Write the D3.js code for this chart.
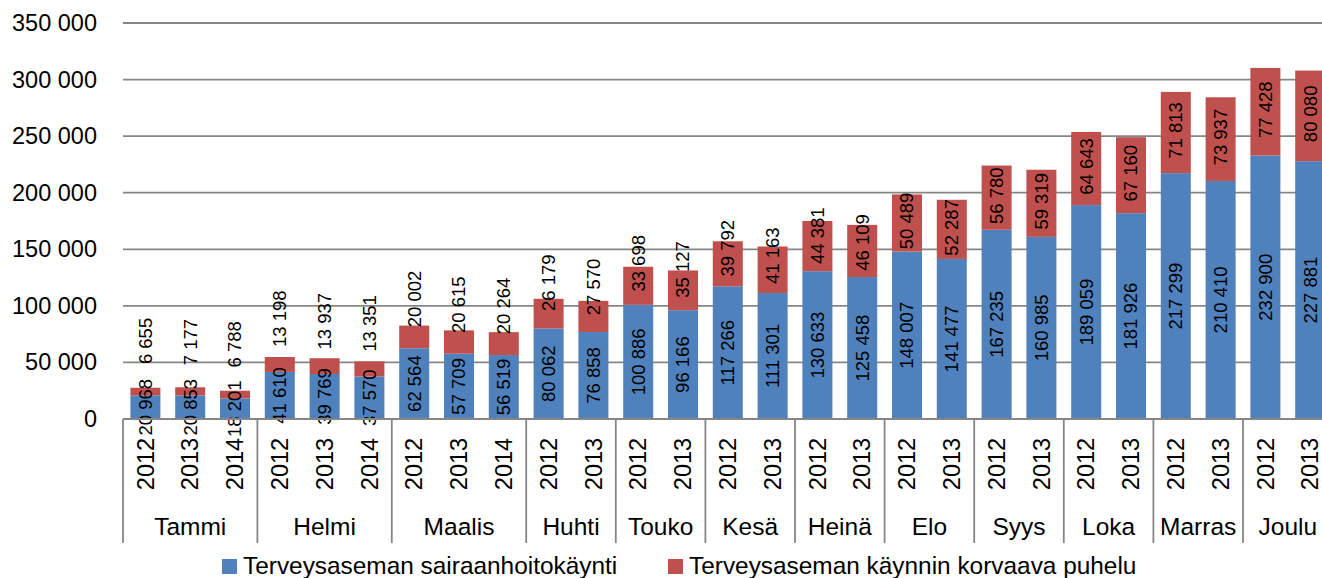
<!DOCTYPE html>
<html>
<head>
<meta charset="utf-8">
<script src="https://cdn.jsdelivr.net/npm/d3@7"></script>
<style>
  body { margin: 0; background: #fff; }
  text { font-family: "Liberation Sans", Arial, sans-serif; fill: #000; }
</style>
</head>
<body>
<svg id="svgContenedor" width="1322" height="578"></svg>
<script>
// kuukaudet ja vuodet (ryhmät)
var months = ["Tammi", "Helmi", "Maalis", "Huhti", "Touko", "Kesä", "Heinä", "Elo", "Syys", "Loka", "Marras", "Joulu"];
var monthYears = [
    ["2012", "2013", "2014"], ["2012", "2013", "2014"], ["2012", "2013", "2014"],
    ["2012", "2013"], ["2012", "2013"], ["2012", "2013"], ["2012", "2013"],
    ["2012", "2013"], ["2012", "2013"], ["2012", "2013"], ["2012", "2013"], ["2012", "2013"]
];
// Terveysaseman sairaanhoitokäynti
var kaynnit = [
    [20968, 20853, 18201], [41610, 39769, 37570], [62564, 57709, 56519],
    [80062, 76858], [100886, 96166], [117266, 111301], [130633, 125458],
    [148007, 141477], [167235, 160985], [189059, 181926], [217299, 210410], [232900, 227881]
];
// Terveysaseman käynnin korvaava puhelu
var puhelut = [
    [6655, 7177, 6788], [13198, 13937, 13351], [20002, 20615, 20264],
    [26179, 27570], [33698, 35127], [39792, 41163], [44381, 46109],
    [50489, 52287], [56780, 59319], [64643, 67160], [71813, 73937], [77428, 80080]
];
var seriesNames = ["Terveysaseman sairaanhoitokäynti", "Terveysaseman käynnin korvaava puhelu"];
var yTicks = [0, 50000, 100000, 150000, 200000, 250000, 300000, 350000];

var colors = ["#4f81bd", "#c0504d"];
var fmt = d3.formatLocale({ decimal: ",", thousands: "\u00a0", grouping: [3], currency: ["", "€"] }).format(",d");

// rivit
var rows = [];
months.forEach(function (m, i) {
    monthYears[i].forEach(function (yr, j) {
        rows.push({ key: m + "-" + yr, month: m, year: yr, a: kaynnit[i][j], b: puhelut[i][j] });
    });
});

var svg = d3.select("#svgContenedor");
var plotLeft = 123, plotBottom = 419, plotTop = 23;
var step = 44.8;

var x = d3.scaleBand()
    .domain(rows.map(function (d) { return d.key; }))
    .range([plotLeft, plotLeft + rows.length * step])
    .paddingInner(0.33)
    .paddingOuter(0.165);
var y = d3.scaleLinear().domain([0, 350000]).range([plotBottom, plotTop]);

// ruudukko
svg.append("g").selectAll("line")
    .data(yTicks)
    .enter().append("line")
    .attr("x1", plotLeft).attr("x2", 1322)
    .attr("y1", function (d) { return y(d); })
    .attr("y2", function (d) { return y(d); })
    .attr("stroke", "#868686")
    .attr("stroke-width", 1.8);

// y-akseli
var yAxis = svg.append("g")
    .attr("transform", "translate(" + plotLeft + ",0)")
    .call(d3.axisLeft(y).tickValues(yTicks).tickSize(0).tickPadding(26).tickFormat(fmt));
yAxis.select(".domain").remove();
yAxis.selectAll("text")
    .style("font-family", "'Liberation Sans', Arial, sans-serif")
    .style("font-size", "23.5px")
    .attr("fill", "#000");

// pylväät
var bars = svg.append("g");
rows.forEach(function (d) {
    bars.append("rect")
        .attr("x", x(d.key)).attr("width", x.bandwidth())
        .attr("y", y(d.a)).attr("height", y(0) - y(d.a))
        .attr("fill", colors[0]);
    bars.append("rect")
        .attr("x", x(d.key)).attr("width", x.bandwidth())
        .attr("y", y(d.a + d.b)).attr("height", y(d.a) - y(d.a + d.b))
        .attr("fill", colors[1]);
});

// arvot
var labels = svg.append("g");
rows.forEach(function (d) {
    var cx = x(d.key) + x.bandwidth() / 2;
    var cyA = (y(0) + y(d.a)) / 2;
    labels.append("text")
        .attr("transform", "translate(" + cx + "," + cyA + ") rotate(-90)")
        .attr("text-anchor", "middle")
        .attr("dy", "0.35em")
        .style("font-size", "18.5px")
        .text(fmt(d.a));
    var segH = y(d.a) - y(d.a + d.b);
    var t = labels.append("text")
        .attr("text-anchor", "middle")
        .attr("dy", "0.35em")
        .style("font-size", "18.5px")
        .text(fmt(d.b));
    // ei mahdu -> siirretään ylös
    var len = t.node().getComputedTextLength();
    var shift = len > segH ? (len - segH) + 4 + Math.max(0, 14 - segH) * 1.2 : 2;
    var cyB = (y(d.a) + y(d.a + d.b)) / 2 - shift;
    t.attr("transform", "translate(" + cx + "," + cyB + ") rotate(-90)");
});

// luokka-akseli
var axisG = svg.append("g");
axisG.append("line")
    .attr("x1", plotLeft).attr("x2", 1322)
    .attr("y1", plotBottom).attr("y2", plotBottom)
    .attr("stroke", "#868686").attr("stroke-width", 1.8);

rows.forEach(function (d) {
    var cx = x(d.key) + x.bandwidth() / 2;
    axisG.append("text")
        .attr("transform", "translate(" + cx + ",464) rotate(-90)")
        .attr("text-anchor", "middle")
        .attr("dy", "0.35em")
        .style("font-size", "23.5px")
        .text(d.year);
});

var idx = 0;
months.forEach(function (m, i) {
    var n = monthYears[i].length;
    var first = rows[idx].key, last = rows[idx + n - 1].key;
    var x0 = x(first) - x.step() * x.paddingInner() / 2;
    var x1 = x(last) + x.bandwidth() + x.step() * x.paddingInner() / 2;
    axisG.append("line")
        .attr("x1", x0).attr("x2", x0)
        .attr("y1", plotBottom).attr("y2", 543)
        .attr("stroke", "#868686").attr("stroke-width", 1.8);
    axisG.append("text")
        .attr("x", (x0 + x1) / 2).attr("y", 535)
        .attr("text-anchor", "middle")
        .style("font-size", "24.5px")
        .text(m);
    idx += n;
});

// selite
var legend = svg.append("g");
var legendX = [222, 668];
seriesNames.forEach(function (s, i) {
    legend.append("rect")
        .attr("x", legendX[i]).attr("y", 559)
        .attr("width", 15).attr("height", 15)
        .attr("fill", colors[i]);
    legend.append("text")
        .attr("x", legendX[i] + 21).attr("y", 574)
        .style("font-size", "24.4px")
        .text(s);
});
</script>
</body>
</html>
